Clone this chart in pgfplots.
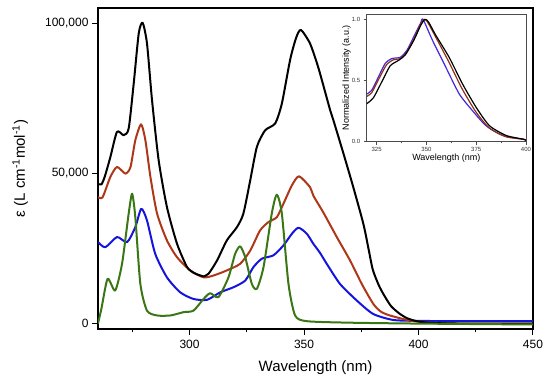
\documentclass[border=0pt]{standalone}
\usepackage{fontspec}
\setmainfont{Liberation Sans}
\usepackage{pgfplots}
\pgfplotsset{compat=1.18}
\definecolor{cgreen}{RGB}{58,118,20}
\definecolor{cred}{RGB}{175,55,25}
\definecolor{cblue}{RGB}{20,20,220}
\definecolor{iblue}{RGB}{70,40,220}
\definecolor{ired}{RGB}{140,50,20}
\begin{document}
\begin{tikzpicture}[x=1pt,y=1pt]
\path[use as bounding box] (0,0) rectangle (550,385);
\begin{axis}[
  name=main,
  scale only axis, width=435pt, height=321pt,
  at={(98pt,56pt)}, anchor=south west,
  xmin=260, xmax=450, ymin=-1800, ymax=105000,
  xtick={300,350,400,450}, minor xtick={275,325,375,425},
  xticklabels={300,350,400,450},
  ytick={0,50000,100000},
  yticklabels={0,{50,000},{100,000}},
  tick align=outside, xtick pos=bottom, ytick pos=left,
  major tick length=6pt, minor tick length=3.5pt,
  every tick/.style={black, line width=1pt},
  axis line style={line width=1.4pt, black},
  ticklabel style={font=\fontsize{12}{14}\selectfont},
  xticklabel style={yshift=-2pt},
  xlabel={Wavelength (nm)}, ylabel={ε (L cm\textsuperscript{-1}mol\textsuperscript{-1})},
  label style={font=\fontsize{15}{18}\selectfont},
  xlabel style={at={(axis description cs:0.5,-0.121)}, anchor=center},
  ylabel style={at={(axis description cs:-0.179,0.5)}, anchor=center},
  every axis plot/.append style={line width=2pt, line join=round, smooth, tension=0.4},
]
\addplot[cblue] coordinates {
(260,27100)(263.2,25400)(268.3,28800)(272.7,27100)(276.3,32100)(278.9,38200)(281.4,34300)
(285,23200)(290.1,15400)(295.9,10400)(301.7,8200)(307.6,7900)(313.4,10400)(319.2,12100)
(324.3,14300)(327.9,18800)(331.6,21600)(336.6,22700)(341,26000)(344.7,29900)(347.6,31900)
(351.2,29900)(354.1,26500)(357,23500)(359.9,19900)(365.7,13200)(373,7700)(380.2,3200)
(389,1200)(400,900)(420,800)(450,800)};
\addplot[cred] coordinates {
(260,42100)(262,42000)(265.4,48800)(268.3,52100)(272,49900)(274.2,52100)(276.3,61000)
(278.8,66300)(280.7,61000)(282.9,48800)(285.8,36600)(290.1,27700)(294.5,22100)(300.3,17700)
(306.1,15400)(310.5,16000)(316.3,17700)(322.1,19900)(326.5,24300)(330.8,31000)(334.5,33800)
(338.1,35400)(341,39900)(344.7,46000)(347.8,49000)(352.6,45400)(354.1,42500)(358.4,37000)
(364.3,28800)(370.1,21000)(375.2,13200)(380.2,6600)(383.5,4000)(387.5,2700)(396.3,1000)
(405,300)(420,0)(450,0)};
\addplot[black] coordinates {
(260,46500)(261.5,46300)(263,49000)(265.4,55400)(268.3,63800)(271.2,62700)(273.4,64900)
(275.6,79900)(277.8,96600)(279.5,100100)(281.4,93200)(283.6,74300)(286.5,54300)(290.1,38800)
(294.5,26600)(298.9,18800)(302,16800)(304.7,16000)(306,15700)(308.3,16600)(312,21000)
(316.3,27700)(320.7,32100)(323.5,36600)(326.5,47700)(329.4,58800)(333,64300)(337.4,66600)
(340.3,73200)(343.9,87700)(346.5,95000)(348.6,97700)(352.6,93200)(356.3,85000)(361.4,71000)
(362.8,67700)(367.2,56600)(371.5,45400)(375.9,33200)(378,25500)(380,18000)(382.5,13000)
(384.6,9900)(388,5800)(391.9,3200)(395,1800)(399.2,800)(406,200)(420,0)(450,0)};
\addplot[cgreen] coordinates {
(260,0)(261.5,5000)(264.2,14900)(267.5,11000)(270.5,19900)(273.4,36600)(274.9,43200)
(276.3,35400)(278.5,13200)(281.4,4300)(285.8,2700)(291.6,2700)(297.4,3800)(301.7,4300)
(306.1,8200)(309,10100)(312.6,8800)(317,15400)(319.9,23200)(322.1,25700)(324.3,22100)
(327.2,13200)(329.4,11600)(332.3,18800)(335.9,36600)(338.1,42900)(340.3,36600)(343.2,13200)
(346.1,2700)(351.2,800)(370,300)(400,0)(450,-300)};
\end{axis}
\begin{axis}[
  scale only axis, width=159.3pt, height=127.7pt,
  at={(366.7pt,243.3pt)}, anchor=south west,
  axis background/.style={fill=white},
  xmin=320, xmax=400, ymin=0, ymax=1.044,
  xtick={325,350,375,400}, minor xtick={337.5,362.5,387.5},
  xticklabels={325,350,375,400},
  ytick={0,0.5,1.0},
  yticklabels={0.0,0.5,1.0},
  tick align=outside, xtick pos=bottom, ytick pos=left,
  major tick length=3pt, minor tick length=1.5pt,
  every tick/.style={black!70, line width=0.6pt},
  axis line style={line width=0.8pt, black!70},
  ticklabel style={font=\fontsize{6}{7}\selectfont, black!80},
  xticklabel style={yshift=1pt},
  xlabel={Wavelength (nm)}, ylabel={Normalized Intensity (a.u.)},
  label style={font=\fontsize{9}{11}\selectfont},
  xlabel style={at={(axis description cs:0.5,-0.128)}, anchor=center},
  ylabel style={at={(axis description cs:-0.126,0.5)}, anchor=center},
  every axis plot/.append style={line width=1.2pt, line join=round, smooth, tension=0.4},
]
\addplot[iblue] coordinates {
(320,0.39)(322.5,0.42)(325.9,0.53)(329.3,0.64)(332.7,0.68)(336.9,0.69)(340.3,0.75)(343.7,0.86)
(347.1,0.97)(348.3,1.0)(353,0.83)(359.7,0.61)(366.5,0.39)(373.3,0.25)(380,0.13)(388.5,0.05)
(398.7,0.02)(400,0.015)};
\addplot[ired] coordinates {
(320,0.37)(322.5,0.40)(326,0.51)(330,0.63)(333.5,0.67)(337,0.68)(340,0.73)(344,0.85)(347,0.96)
(348.7,1.0)(350.5,0.98)(354.5,0.86)(361,0.66)(368,0.43)(375,0.24)(381.7,0.11)(390,0.04)
(398.7,0.02)(400,0.012)};
\addplot[black] coordinates {
(320,0.31)(323.4,0.36)(327.6,0.49)(331.8,0.62)(336,0.665)(339.4,0.71)(343.7,0.83)(347.1,0.95)
(349.2,1.0)(351,0.98)(354.7,0.87)(361.4,0.69)(368.2,0.47)(375,0.28)(381.7,0.13)(390.2,0.05)
(398.7,0.02)(400,0.01)};
\end{axis}
\end{tikzpicture}
\end{document}
